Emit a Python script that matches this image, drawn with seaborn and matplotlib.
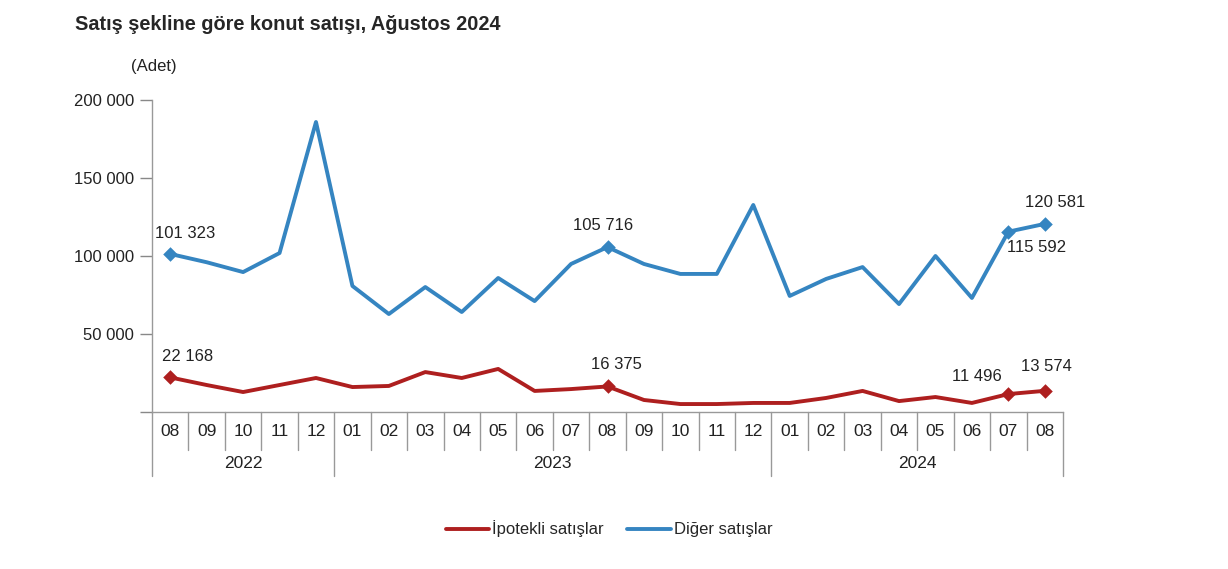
import pandas as pd
import matplotlib
matplotlib.use("Agg")
import matplotlib.pyplot as plt
import matplotlib.transforms as mtransforms
from matplotlib.lines import Line2D
import seaborn as sns

# data
months = ["08", "09", "10", "11", "12",
          "01", "02", "03", "04", "05", "06", "07", "08", "09", "10", "11", "12",
          "01", "02", "03", "04", "05", "06", "07", "08"]
years = ["2022", "2023", "2024"]
year_spans = [(0, 5), (5, 17), (17, 25)]
ipotekli = [22168, 17300, 12800, 17300, 21800,
            16000, 16700, 25600, 21800, 27600, 13500, 14700, 16375, 7700, 5100, 5100, 5800,
            5800, 9000, 13500, 7000, 9600, 5800, 11496, 13574]
diger = [101323, 96000, 89700, 101900, 185900,
         80800, 62800, 80100, 64100, 85900, 71100, 94900, 105716, 94900, 88500, 88500, 132700,
         74400, 85300, 92900, 69200, 100000, 73100, 115592, 120581]
highlight = [0, 12, 23, 24]

red = "#AE1F1F"
blue = "#3585C1"

df = pd.DataFrame({
    "pos": list(range(len(months))) * 2,
    "value": ipotekli + diger,
    "series": ["İpotekli satışlar"] * len(months) + ["Diğer satışlar"] * len(months),
})

sns.set_style("white")
plt.rcParams["font.family"] = ["Liberation Sans", "DejaVu Sans"]

fig = plt.figure(figsize=(12.28, 5.69), dpi=100)
ax = fig.add_axes([152 / 1228, 1 - 412 / 569, (1063 - 152) / 1228, 312 / 569])

sns.lineplot(data=df, x="pos", y="value", hue="series",
             palette={"İpotekli satışlar": red, "Diğer satışlar": blue},
             linewidth=2.8, legend=False, ax=ax)

# diamond markers on labelled points
for vals, col in [(ipotekli, red), (diger, blue)]:
    ax.scatter(highlight, [vals[i] for i in highlight], marker="D", s=55,
               color=col, zorder=3, linewidths=0)

def fmt(v):
    return f"{v:,}".replace(",", " ")

# labels: (index, series, dx, dy) in pixels
labels = [(0, diger, 15, 20), (12, diger, -4, 22), (23, diger, 28, -16), (24, diger, 10, 21),
          (0, ipotekli, 17, 21), (12, ipotekli, 9, 22), (23, ipotekli, -31, 18), (24, ipotekli, 2, 24)]
for i, vals, dx, dy in labels:
    ax.annotate(fmt(vals[i]), (i, vals[i]), xytext=(dx, dy), textcoords="offset pixels",
                ha="center", va="center", fontsize=12, color="#222222")

ax.set_xlim(-0.5, len(months) - 0.5)
ax.set_ylim(0, 200000)
ax.set_yticks([0, 50000, 100000, 150000, 200000])
ax.set_yticklabels(["", "50 000", "100 000", "150 000", "200 000"], fontsize=12, color="#222222")
ax.set_xticks([])
ax.set_xlabel("")
ax.set_ylabel("")
ax.tick_params(axis="y", direction="out", length=9, width=1, color="#888888", pad=4, left=True)
for s in ["top", "right"]:
    ax.spines[s].set_visible(False)
for s in ["left", "bottom"]:
    ax.spines[s].set_color("#999999")
    ax.spines[s].set_linewidth(1)

# two-level category axis
trans = mtransforms.blended_transform_factory(ax.transData, ax.transAxes)
month_h = -(450 - 412) / 312
year_h = -(476 - 412) / 312
year_edges = [a for a, b in year_spans] + [year_spans[-1][1]]
for k in range(len(months) + 1):
    y_end = year_h if k in year_edges else month_h
    ax.plot([k - 0.5, k - 0.5], [0, y_end], transform=trans, color="#999999",
            linewidth=1, clip_on=False)
for k, m in enumerate(months):
    ax.text(k, -(432 - 412) / 312, m, transform=trans, ha="center", va="center",
            fontsize=12.5, color="#222222", family=["Liberation Sans Narrow", "Liberation Sans"])
for (a, b), yr in zip(year_spans, years):
    ax.text((a + b - 1) / 2, -(463 - 412) / 312, yr, transform=trans, ha="center", va="center",
            fontsize=12.5, color="#222222", family=["Liberation Sans Narrow", "Liberation Sans"])

fig.text(75 / 1228, 1 - 25 / 569, "Satış şekline göre konut satışı, Ağustos 2024",
         fontsize=14.3, fontweight="bold", ha="left", va="center")
fig.text(131 / 1228, 1 - 67 / 569, "(Adet)", fontsize=12, ha="left", va="center", color="#222222")

handles = [Line2D([0], [0], color=red, linewidth=2.8), Line2D([0], [0], color=blue, linewidth=2.8)]
fig.legend(handles, ["İpotekli satışlar", "Diğer satışlar"], loc="center",
           bbox_to_anchor=(609 / 1228, 1 - 529 / 569), ncol=2, frameon=False,
           fontsize=12, handlelength=2.6, handletextpad=0.2, columnspacing=1.4)

fig.savefig("out.png", dpi=100)
